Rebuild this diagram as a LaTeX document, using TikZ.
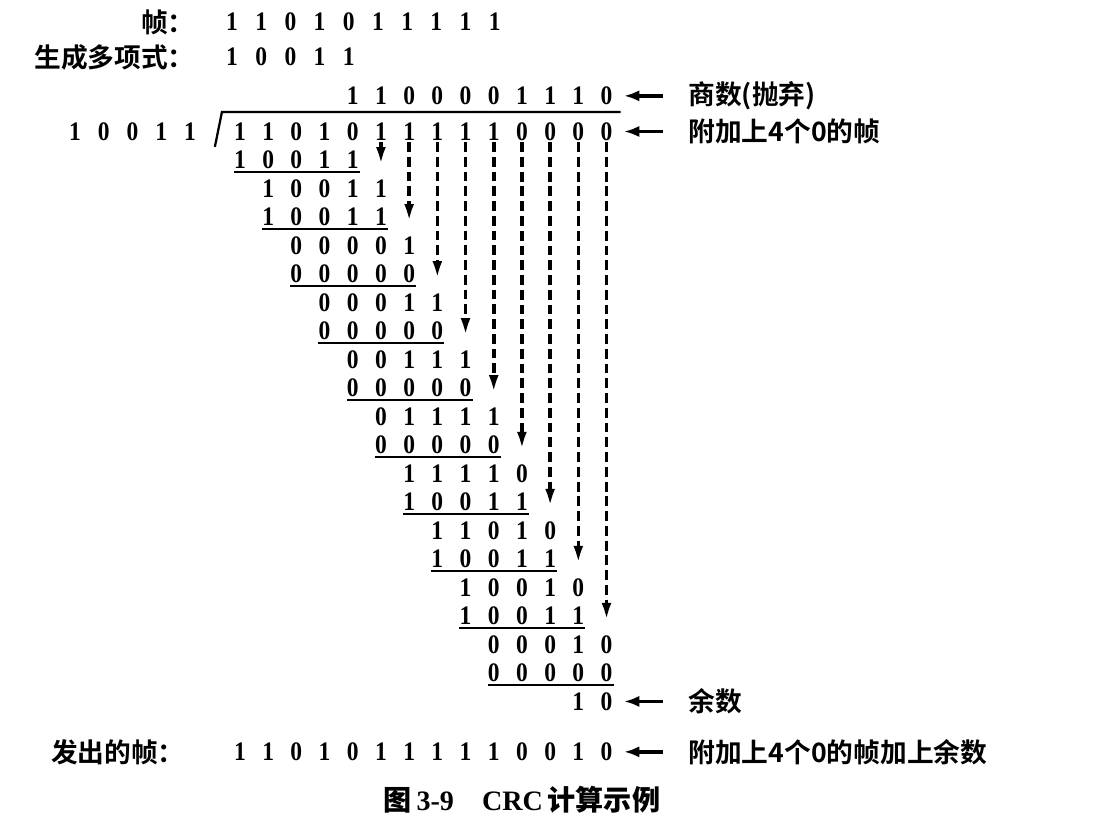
\documentclass[tikz,border=0pt]{standalone}
\usepackage{fontspec}
\setmainfont{Liberation Serif}
\newfontfamily\bitfont{Liberation Serif}[FakeStretch=0.88]
\newfontfamily\cjk{Noto Sans CJK SC Bold}
\usetikzlibrary{arrows.meta}

\tikzset{
  bit/.style={font=\fontsize{19}{19}\bitfont\bfseries,inner sep=1pt},
  txt/.style={font=\fontsize{19}{22}\cjk,inner sep=0pt},
  rule/.style={line width=1.6pt},
  bring/.style={line width=2.6pt,dash pattern=on 7pt off 3.5pt,
    -{Latex[length=13pt,width=7pt]},shorten >=9pt},
  ptr/.style={line width=2.6pt,-{Latex[length=11pt,width=8pt]},
    shorten <=18pt,shorten >=7pt}
}

\begin{document}
\begin{tikzpicture}[x=0.705cm,y=-0.7125cm]
  \useasboundingbox (-8.51,-4.614) rectangle (31.21,24.51);
  \node[txt,anchor=east] (lf) at (-1.6,-3.84) {帧：};
  \node[txt,anchor=east] (lg) at (-1.6,-2.61) {生成多项式：};
  \foreach \b [count=\i from 0] in {1,1,0,1,0,1,1,1,1,1}
    \node[bit] (f-\i) at (-0.28+1.035*\i,-3.84) {\b};
  \foreach \b [count=\i from 0] in {1,0,0,1,1}
    \node[bit] (g-\i) at (-0.28+1.035*\i,-2.61) {\b};
  \foreach \b [count=\i from 0] in {1,1,0,0,0,0,1,1,1,0}
    \node[bit] (q-\i) at (4+\i,-1.25) {\b};
  \foreach \b [count=\i from 0] in {1,0,0,1,1}
    \node[bit] (p-\i) at (-5.85+1.02*\i,0) {\b};
  \draw[rule] (-0.89,0.54) -- (-0.64,-0.68) -- (13.5,-0.68);
  \foreach \r/\s/\bits in {0/0/{1,1,0,1,0,1,1,1,1,1,0,0,0,0},
      1/0/{1,0,0,1,1},2/1/{1,0,0,1,1},3/1/{1,0,0,1,1},
      4/2/{0,0,0,0,1},5/2/{0,0,0,0,0},6/3/{0,0,0,1,1},7/3/{0,0,0,0,0},
      8/4/{0,0,1,1,1},9/4/{0,0,0,0,0},10/5/{0,1,1,1,1},11/5/{0,0,0,0,0},
      12/6/{1,1,1,1,0},13/6/{1,0,0,1,1},14/7/{1,1,0,1,0},15/7/{1,0,0,1,1},
      16/8/{1,0,0,1,0},17/8/{1,0,0,1,1},18/9/{0,0,0,1,0},19/9/{0,0,0,0,0},
      20/12/{1,0}}
    \foreach \b [count=\i from 0] in \bits {
      \pgfmathtruncatemacro\c{\s+\i}
      \node[bit] (r\r-\c) at (\c,\r) {\b};
    }
  \foreach \r/\s in {1/0,3/1,5/2,7/3,9/4,11/5,13/6,15/7,17/8,19/9}
    \draw[rule] (\s-0.22,\r+0.42) -- (\s+4.25,\r+0.42);
  \foreach \c in {5,...,13} {
    \pgfmathtruncatemacro\t{2*\c-8}
    \draw[bring] (r0-\c.south) -- (r\t-\c.north);
  }
  \node[txt,anchor=east] (ls) at (-1.95,21.77) {发出的帧：};
  \foreach \b [count=\i from 0] in {1,1,0,1,0,1,1,1,1,1,0,0,1,0}
    \node[bit] (s-\i) at (\i,21.77) {\b};
  \node[txt,anchor=west] (lq) at (15.9,-1.25) {商数(抛弃)};
  \node[txt,anchor=west] (ld) at (15.9,0) {附加上4个0的帧};
  \node[txt,anchor=west] (lr) at (15.9,20) {余数};
  \node[txt,anchor=west] (lsr) at (15.9,21.77) {附加上4个0的帧加上余数};
  \draw[ptr] (lq.west) -- (q-9.east);
  \draw[ptr] (ld.west) -- (r0-13.east);
  \draw[ptr] (lr.west) -- (r20-13.east);
  \draw[ptr] (lsr.west) -- (s-13.east);
  \node[font=\fontsize{20}{24}\selectfont\bfseries] (cap) at (10,23.46)
    {{\cjk 图}\,3-9\quad CRC\,{\cjk 计算示例}};
\end{tikzpicture}
\end{document}
